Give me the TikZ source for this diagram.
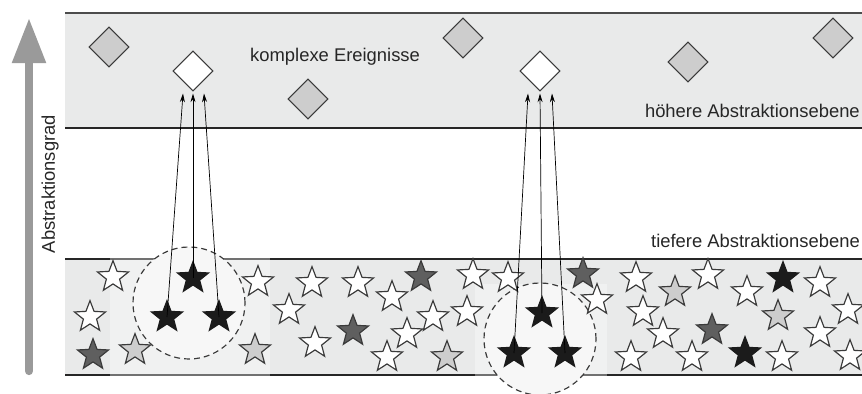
\documentclass[tikz,border=0pt]{standalone}
\usepackage{fontspec}
\setmainfont{Liberation Sans}
\usetikzlibrary{positioning,arrows.meta,shapes.geometric,calc}

\definecolor{bandgray}{HTML}{E9EAEA}
\definecolor{lightfill}{HTML}{CDCDCD}
\definecolor{darkfill}{HTML}{5F5F5F}
\definecolor{blackfill}{HTML}{1B1B1B}
\definecolor{edgegray}{HTML}{3A3A3A}
\definecolor{axisgray}{HTML}{9A9A9A}

\tikzset{
  star5/.style={star, star points=5, star point ratio=2.35, minimum size=0.98cm,
    inner sep=0pt, draw=edgegray, line width=1pt},
  wstar/.style={star5, fill=white},
  lstar/.style={star5, fill=lightfill},
  dstar/.style={star5, fill=darkfill},
  bstar/.style={star5, fill=blackfill, draw=blackfill},
  event/.style={diamond, aspect=1, minimum size=1.2cm, inner sep=0pt,
    draw=edgegray, line width=0.9pt},
  lvltext/.style={font=\fontsize{15.7}{19}\selectfont, text=black!85, inner sep=0pt},
  pick/.style={-{Stealth[length=0.26cm,width=0.15cm]}, line width=0.6pt},
  group/.style={dash pattern=on 5pt off 3.5pt, edgegray, fill=white!97!black, line width=1pt},
}

\begin{document}
\begin{tikzpicture}[x=0.03cm, y=-0.03cm]
    \useasboundingbox (0,0) rectangle (862,394);

    % Draw the two bands
    \fill[bandgray] (65,13) rectangle (870,128);
    \draw[line width=1.4pt, black!70] (65,13) -- (870,13);
    \draw[line width=1.1pt, black!85] (65,128) -- (870,128);
    \fill[bandgray] (65,259) rectangle (870,375);
    \draw[line width=1.1pt, black!85] (65,259) -- (870,259);
    \draw[line width=1.1pt, black!85] (65,375) -- (870,375);

    % Pale areas behind the groups
    \fill[white, opacity=0.35] (110,255) rectangle (270,380);
    \fill[white, opacity=0.35] (475,284) rectangle (607,380);

    % Draw circles for groups
    \draw[group] (189,303) circle[radius=1.68cm];
    \draw[group] (540,339) circle[radius=1.68cm];

    % Axis
    \draw[axisgray, line width=0.25cm, line cap=round,
        -{Triangle[width=0.96cm,length=1.35cm]}] (29,371) -- (29,18);
    \node[lvltext, rotate=90] (grad) at (50,184) {Abstraktionsgrad};

    % Labels
    \node[lvltext, anchor=base west] (komplex) at (250,62) {komplexe Ereignisse};
    \node[lvltext, anchor=base east] (hoch) at (860,118) {höhere Abstraktionsebene};
    \node[lvltext, anchor=base east] (tief) at (860,247) {tiefere Abstraktionsebene};

    % Events on the upper level
    \foreach \x/\y [count=\i] in {109/47, 308/99, 463/38, 688/62, 833/38}
        \node[event, fill=lightfill] (e\i) at (\x,\y) {};
    \node[event, fill=white] (k1) at (193,71) {};
    \node[event, fill=white] (k2) at (540,71) {};

    % Events on the lower level
    \foreach \x/\y [count=\i] in {113/277, 90/317, 258/282, 312/283, 358/283, 392/297,
        289/310, 433/317, 407/334, 315/343, 387/357, 473/275, 508/278, 467/312,
        597/300, 636/278, 643/312, 663/334, 631/357, 692/357, 708/275, 747/292,
        820/283, 848/310, 820/333, 782/357, 850/356}
        \node[wstar] (w\i) at (\x,\y) {};
    \foreach \x/\y [count=\i] in {135/350, 255/350, 447/357, 675/292, 778/316}
        \node[lstar] (l\i) at (\x,\y) {};
    \foreach \x/\y [count=\i] in {93/355, 421/277, 353/331, 583/274, 712/330}
        \node[dstar] (d\i) at (\x,\y) {};
    \node[bstar] (b1) at (783,278) {};
    \node[bstar] (b2) at (745,353) {};

    % Picked events
    \node[bstar] (a1) at (167,317) {};
    \node[bstar] (a2) at (193,278) {};
    \node[bstar] (a3) at (219,317) {};
    \node[bstar] (c1) at (514,353) {};
    \node[bstar] (c2) at (542,313) {};
    \node[bstar] (c3) at (565,353) {};

    % Arrows up to the complex events
    \draw[pick] (a1.center) -- ($(k1.south)+(-10,2)$);
    \draw[pick] (a2.center) -- ($(k1.south)+(0,2)$);
    \draw[pick] (a3.center) -- ($(k1.south)+(11,2)$);
    \draw[pick] (c1.center) -- ($(k2.south)+(-12,2)$);
    \draw[pick] (c2.center) -- ($(k2.south)+(0,2)$);
    \draw[pick] (c3.center) -- ($(k2.south)+(12,2)$);
\end{tikzpicture}
\end{document}
